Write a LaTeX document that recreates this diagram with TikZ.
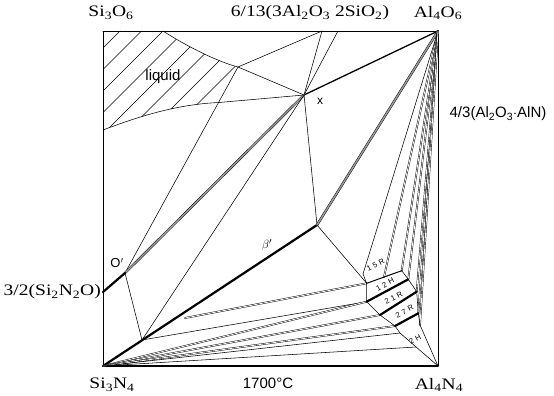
\documentclass[tikz,border=0pt]{standalone}
\usepackage{fontspec}
\setmainfont{Liberation Serif}
\setsansfont{Liberation Sans}
\newfontfamily\labfont[FakeStretch=1.22]{Liberation Serif}
\newcommand\gk{\kern2.6pt}
\begin{document}
\begin{tikzpicture}[x=1pt,y=-1pt,line join=round,line cap=round,
  fl/.style={line width=0.55pt},
  pairl/.style={line width=0.45pt,double=white,double distance=0.8pt},
  trip/.style={line width=0.45pt,double=black!40,double distance=1.5pt},
  heavy/.style={line width=2.2pt},
  mid/.style={line width=1.3pt},
  serlab/.style={font=\labfont\fontsize{16}{16}\selectfont,inner sep=0pt},
  sanlab/.style={font=\sffamily\fontsize{15}{15}\selectfont,inner sep=0pt},
  polylab/.style={font=\sffamily\fontsize{7.6}{7.6}\selectfont,rotate=28,inner sep=0pt}]
\useasboundingbox (0,0) rectangle (554,396);
% corners
\coordinate (SO) at (103,31);
\coordinate (AO) at (438,31);
\coordinate (AN) at (438,366);
\coordinate (SN) at (103,366);
% key points
\coordinate (X) at (304,95);
\coordinate (M1) at (322,31);
\coordinate (M2) at (338,31);
\coordinate (K) at (238,67);
\coordinate (L0) at (163,31);
\coordinate (L1) at (103,130);
\coordinate (H2) at (219,102.5);
\coordinate (SNO) at (103,292);
\coordinate (Op) at (125,273);
\coordinate (E) at (317,225);
\coordinate (B1) at (185,318);
\coordinate (B2) at (142,340);
% polytypoid strip
\coordinate (T1) at (363,274);
\coordinate (S1) at (384,277.1);
\coordinate (P1) at (366.7,283.3);
\coordinate (Q1) at (401.7,270.7);
\coordinate (P2) at (366.7,301.7);
\coordinate (Q2) at (408.3,279.3);
\coordinate (P3) at (380,315);
\coordinate (Q3) at (416.7,291.7);
\coordinate (P4) at (395,326);
\coordinate (Q4) at (418.3,313.3);
\coordinate (P5) at (400,333);
\coordinate (Q5) at (420,325);
\coordinate (F1) at (416,347);
% liquid hatching
\begin{scope}
  \clip (SO) -- (L0) .. controls (180,42) and (212,60) .. (K) -- (H2)
        .. controls (185,104) and (150,112) .. (L1) -- cycle;
  \foreach \c in {151,172.5,...,340} \draw[fl] (\c-140,140) -- (\c,0);
\end{scope}
% frame
\draw[line width=0.9pt] (SO) -- (AO) -- (AN);
\draw[line width=0.9pt] (AO) -- (SO) -- (SN);
\draw[line width=1.4pt] (SN) -- (AN);
% liquid boundary
\draw[fl] (L0) .. controls (180,42) and (212,60) .. (K) -- (X);
\draw[fl] (L1) .. controls (150,112) and (185,104) .. (H2) -- (X);
% upper lines
\draw[fl] (K) -- (M1);
\draw[fl] (X) -- (M1);
\draw[fl] (X) -- (M2);
\draw[mid] (X) -- (AO);
\draw[fl] (K) -- (Op);
\draw[trip] (Op) -- (X);
\draw[fl] (X) -- (B2);
\draw[fl] (X) -- (E);
\draw[fl] (Op) -- (B2);
\draw[heavy] (SNO) -- (Op);
\draw[heavy] (SN) -- (E);
\draw[trip] (E) -- (AO);
\draw[fl] (E) -- (P1);
% lines to Al4O6
\draw[fl] (AO) -- (T1);
\foreach \p in {S1,Q1,Q2,Q3,Q4,Q5} \draw[pairl] (AO) -- (\p);
% tie lines from beta'
\draw[pairl] (B1) -- (P1);
\draw[fl] (B2) -- (P2);
\draw[pairl] (SN) -- (P2);
\draw[pairl] (SN) -- (P3);
\draw[pairl] (SN) -- (P4);
\draw[fl] (SN) -- (P5);
\draw[fl] (SN) -- (F1);
% polytypoid strip
\draw[fl] (T1) -- (P1);
\draw[line width=1pt] (P1) -- (Q1);
\draw[fl] (P1) -- (P2) -- (P3) -- (P4) -- (P5) -- (AN);
\draw[fl] (Q1) -- (Q2) -- (Q3) -- (Q4) -- (Q5) -- (AN);
\draw[heavy] (P2) -- (Q2);
\draw[heavy] (P3) -- (Q3);
\draw[heavy] (P4) -- (Q4);
% labels
\node[serlab] (lSO) at (111,13) {Si\textsubscript{3}O\textsubscript{6}};
\node[serlab] (lM) at (310,13) {6/13(3Al\textsubscript{2}O\textsubscript{3} 2SiO\textsubscript{2})};
\node[serlab] (lAO) at (438,13) {Al\textsubscript{4}O\textsubscript{6}};
\node[sanlab] (lAA) at (498,114) {4/3(Al\textsubscript{2}O\textsubscript{3}$\cdot$AlN)};
\node[serlab,anchor=east] (lSNO) at (101,292) {3/2(Si\textsubscript{2}N\textsubscript{2}O)};
\node[serlab] (lSN) at (112,385) {Si\textsubscript{3}N\textsubscript{4}};
\node[sanlab] (lT) at (268,383) {1700\textdegree C};
\node[serlab] (lAN) at (439,385) {Al\textsubscript{4}N\textsubscript{4}};
\node[sanlab] (lliq) at (163,77) {liquid};
\node[sanlab,font=\sffamily\fontsize{12}{12}\selectfont] (lx) at (320,101) {x};
\node[sanlab,font=\sffamily\fontsize{13}{13}\selectfont] (lO) at (117,263) {O$'$};
\node[inner sep=0pt,font=\fontsize{13}{13}\selectfont] (lB) at (267,245) {$\beta'$};
\node[polylab] (l15) at (375.5,265) {1\gk5\gk R};
\node[polylab] (l12) at (385,284.5) {1\gk2\gk H};
\node[polylab] (l21) at (393.5,298) {2\gk1\gk R};
\node[polylab] (l27) at (404.5,311.5) {2\gk7\gk R};
\node[polylab] (l2H) at (415,339) {2\gk H};
\end{tikzpicture}
\end{document}
